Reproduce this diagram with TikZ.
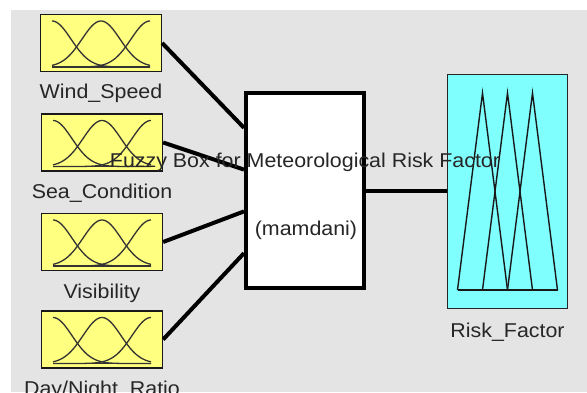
\documentclass[tikz,border=0pt]{standalone}
\usepackage{fontspec}
\setmainfont{Liberation Sans}[FakeStretch=1.07]
\usetikzlibrary{calc}
\definecolor{bgray}{HTML}{E4E4E4}
\definecolor{mfin}{HTML}{FFFF80}
\definecolor{mfout}{HTML}{80FFFF}
\begin{document}
\begin{tikzpicture}[x=1pt,y=-1pt,
  inbox/.style={draw=black!90, line width=1.3pt, fill=mfin, minimum width=121pt, minimum height=57pt, inner sep=0pt},
  fisbox/.style={draw=black, line width=4pt, fill=white, minimum width=118pt, minimum height=195pt, inner sep=0pt},
  outbox/.style={draw=black!85, line width=1.3pt, fill=mfout, minimum width=120pt, minimum height=234pt, inner sep=0pt},
  mfline/.style={draw=black!80, line width=1.3pt},
  triline/.style={draw=black!90, line width=1.4pt, line join=miter},
  conn/.style={draw=black, line width=4pt},
  lbl/.style={font=\fontsize{20}{22}\selectfont, text=black!85, inner sep=0pt}]
\useasboundingbox (0,0) rectangle (587,392);
\fill[bgray] (11,10) rectangle (587,392);

% input membership-function boxes
\node[inbox] (in1) at (101,43) {};
\node[inbox] (in2) at (102,142.5) {};
\node[inbox] (in3) at (102,242) {};
\node[inbox] (in4) at (102,339.5) {};
\foreach \b in {in1,in2,in3,in4} {
  \foreach \c in {-49,0,49} {
    \draw[mfline, shift={(\b.center)}] plot[domain=-49:49, samples=80, smooth]
      (\x, {24-46*exp(-((\x-(\c))^2)/722)});
  }
  \draw[mfline, shift={(\b.center)}] (-49,24) -- (49,24);
}

% FIS box and output box
\node[fisbox] (fis) at (305,190.5) {};
\node[outbox] (out) at (507.5,191.5) {};
\draw[triline, shift={(out.center)}] (-50,98.5) -- (-25,-98.5) -- (0,98.5);
\draw[triline, shift={(out.center)}] (-25,98.5) -- (0,-98.5) -- (25,98.5);
\draw[triline, shift={(out.center)}] (0,98.5) -- (25,-98.5) -- (50,98.5);
\draw[triline, shift={(out.center)}] (-50,98.5) -- (50,98.5);

% connectors
\coordinate (p1) at ($(fis.north west)!0.185!(fis.south west)$);
\coordinate (p2) at ($(fis.north west)!0.395!(fis.south west)$);
\coordinate (p3) at ($(fis.north west)!0.605!(fis.south west)$);
\coordinate (p4) at ($(fis.north west)!0.815!(fis.south west)$);
\draw[conn] (in1.east) -- (p1);
\draw[conn] (in2.east) -- (p2);
\draw[conn] (in3.east) -- (p3);
\draw[conn] (in4.east) -- (p4);
\draw[conn] (fis.east) -- (fis.east -| out.west);

% labels
\node[lbl, anchor=base] (t1) at ([yshift=-26pt]in1.south) {Wind\_Speed};
\node[lbl, anchor=base] (t2) at ([yshift=-27pt]in2.south) {Sea\_Condition};
\node[lbl, anchor=base] (t3) at ([yshift=-27pt]in3.south) {Visibility};
\node[lbl, anchor=base] (t4) at ([yshift=-27pt]in4.south) {Day/Night\_Ratio};
\node[lbl, anchor=base] (t5) at ([yshift=-28pt]out.south) {Risk\_Factor};
\node[lbl, anchor=base] (title) at (305,167) {Fuzzy Box for Meteorological Risk Factor};
\node[lbl, anchor=base] (mtype) at (306,235) {(mamdani)};
\end{tikzpicture}
\end{document}
